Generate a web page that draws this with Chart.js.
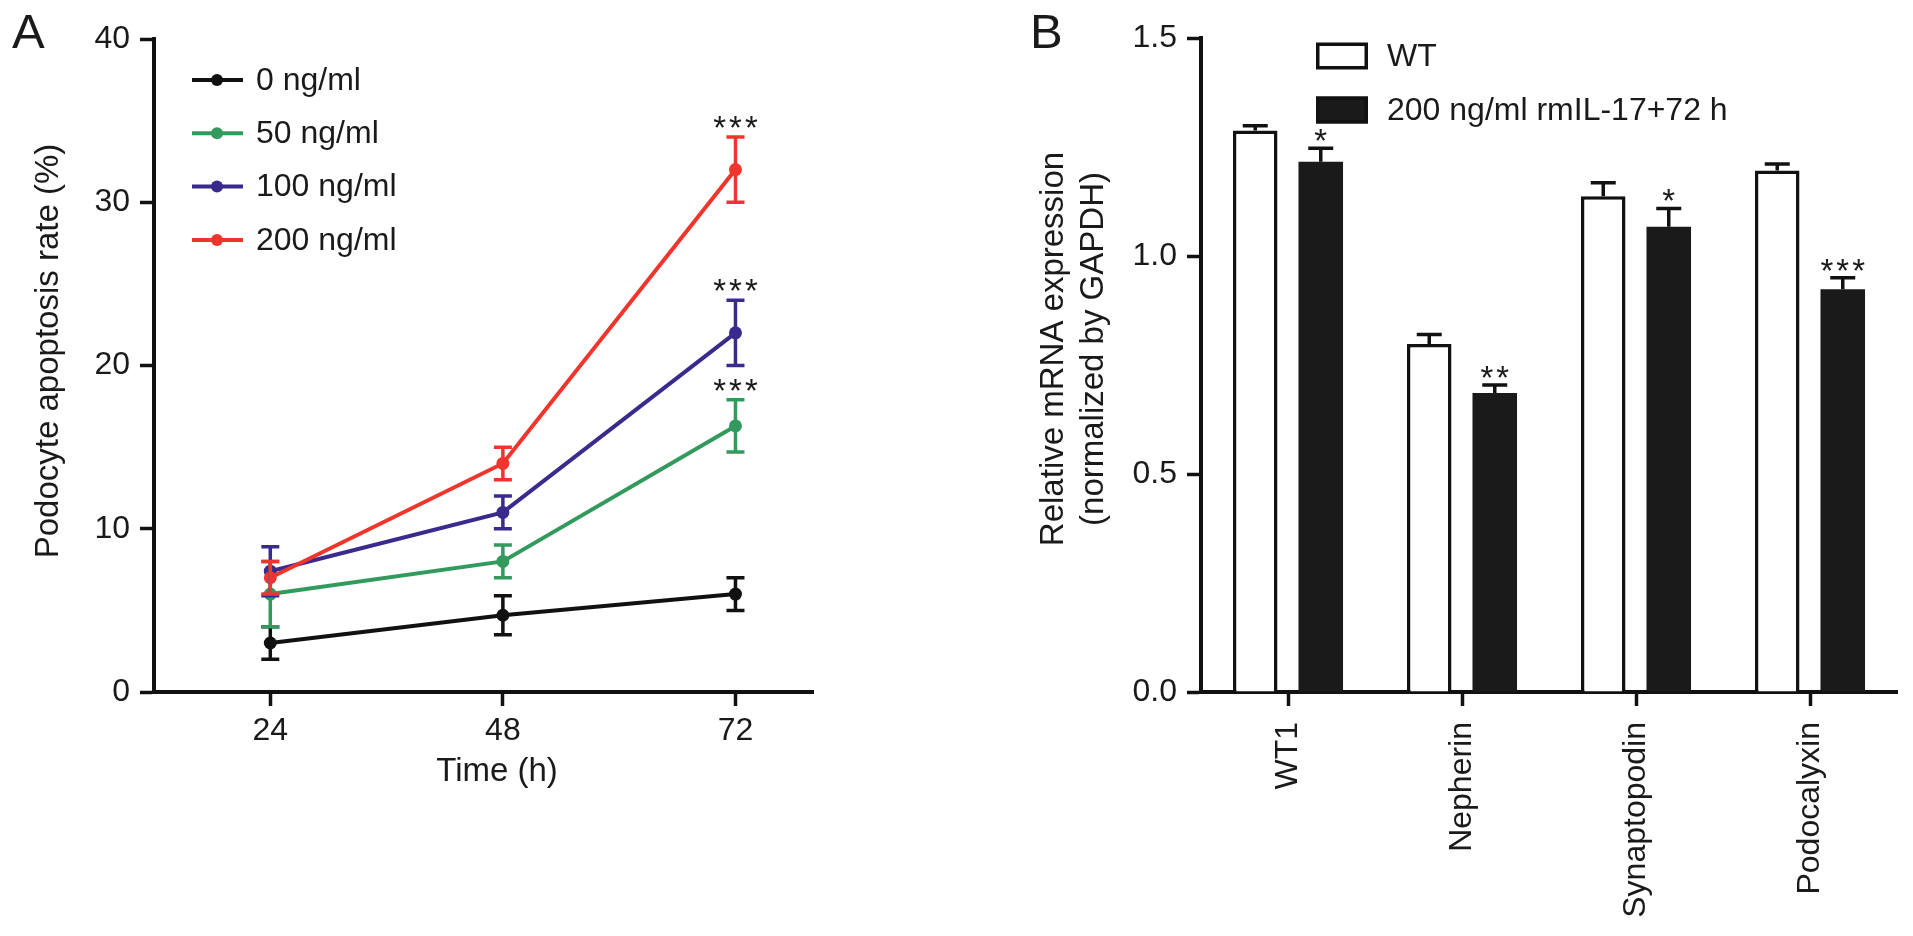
<!DOCTYPE html>
<html>
<head>
<meta charset="utf-8">
<script src="https://cdn.jsdelivr.net/npm/chart.js@4.4.1/dist/chart.umd.min.js"></script>
<style>
html, body { margin: 0; padding: 0; background: #fff; }
#wrap { position: relative; width: 1913px; height: 936px; overflow: hidden; }
#boxA { position: absolute; left: 0; top: 0; }
#boxB { position: absolute; left: 960px; top: 0; }
</style>
</head>
<body>
<div id="wrap">
  <div id="boxA"><canvas id="chartA" width="960" height="936"></canvas></div>
  <div id="boxB"><canvas id="chartB" width="953" height="936"></canvas></div>
</div>
<script>
// A: apoptosis rate over time
const timePoints = [24, 48, 72];
const doseLabels = ['0 ng/ml', '50 ng/ml', '100 ng/ml', '200 ng/ml'];
const doseColors = ['#111111', '#339a5e', '#3b2a8e', '#f0362c'];
const dose0 = [3.0, 4.7, 6.0];
const dose50 = [6.0, 8.0, 16.3];
const dose100 = [7.4, 11.0, 22.0];
const dose200 = [7.0, 14.0, 32.0];
const err0 = [1.0, 1.2, 1.0];
const err50 = [2.0, 1.0, 1.6];
const err100 = [1.5, 1.0, 2.0];
const err200 = [1.0, 1.0, 2.0];
const sig0 = ['', '', ''];
const sig50 = ['', '', '***'];
const sig100 = ['', '', '***'];
const sig200 = ['', '', '***'];
const yTicksA = [0, 10, 20, 30, 40];

// B: mRNA expression
const genes = ['WT1', 'Nepherin', 'Synaptopodin', 'Podocalyxin'];
const groupLabels = ['WT', '200 ng/ml rmIL-17+72 h'];
const wtMean = [1.288, 0.798, 1.137, 1.196];
const wtErr = [0.011, 0.022, 0.031, 0.015];
const rmMean = [1.216, 0.686, 1.067, 0.924];
const rmErr = [0.031, 0.018, 0.042, 0.026];
const sigB = ['*', '**', '*', '***'];

const FONT = '"Liberation Sans", Arial, Helvetica, sans-serif';
Chart.defaults.font.family = FONT;
Chart.defaults.font.size = 32;
Chart.defaults.color = '#1a1a1a';

// asterisks centred at (x, cy)
function drawStars(ctx, text, x, cy) {
    ctx.save();
    ctx.font = '33px ' + FONT;
    ctx.letterSpacing = '3px';
    ctx.textAlign = 'center';
    ctx.textBaseline = 'alphabetic';
    ctx.fillStyle = '#1a1a1a';
    ctx.fillText(text, x + 1.5, cy + 19);
    ctx.restore();
}

// letters, axis titles
const panelText = {
    id: 'panelText',
    afterDraw(chart, args, o) {
        const ctx = chart.ctx;
        ctx.save();
        ctx.fillStyle = '#1a1a1a';
        ctx.font = '49px ' + FONT;
        ctx.textBaseline = 'alphabetic';
        ctx.fillText(o.letter, o.letterX, 48);

        ctx.font = '33px ' + FONT;
        ctx.textAlign = 'center';
        ctx.textBaseline = 'middle';
        ctx.save();
        ctx.translate(o.yTitleX, o.yTitleY);
        ctx.rotate(-Math.PI / 2);
        o.yTitle.forEach((line, i) => ctx.fillText(line, 0, i * 40));
        ctx.restore();
        if (o.xTitle) ctx.fillText(o.xTitle, o.xTitleX, o.xTitleY);
        ctx.restore();
    }
};

const lineExtras = {
    id: 'lineExtras',
    afterDatasetsDraw(chart) {
        const { ctx, scales: { x, y } } = chart;
        ctx.save();
        chart.data.datasets.forEach(ds => {
            ctx.strokeStyle = ds.borderColor;
            ctx.lineWidth = 3.5;
            ds.data.forEach((p, j) => {
                const e = ds.errors[j];
                const px = x.getPixelForValue(p.x);
                const top = y.getPixelForValue(p.y + e);
                const bot = y.getPixelForValue(p.y - e);
                ctx.beginPath();
                ctx.moveTo(px, top); ctx.lineTo(px, bot);
                ctx.moveTo(px - 9, top); ctx.lineTo(px + 9, top);
                ctx.moveTo(px - 9, bot); ctx.lineTo(px + 9, bot);
                ctx.stroke();
                if (ds.sig[j]) drawStars(ctx, ds.sig[j], px, top - 17);
            });
        });
        // legend
        ctx.textAlign = 'left';
        ctx.textBaseline = 'middle';
        ctx.font = '32px ' + FONT;
        chart.data.datasets.forEach((ds, i) => {
            const ly = 80 + i * 53.3;
            ctx.strokeStyle = ds.borderColor;
            ctx.lineWidth = 4;
            ctx.beginPath();
            ctx.moveTo(192, ly); ctx.lineTo(243, ly);
            ctx.stroke();
            ctx.fillStyle = ds.borderColor;
            ctx.beginPath();
            ctx.arc(217, ly, 6, 0, Math.PI * 2);
            ctx.fill();
            ctx.fillStyle = '#1a1a1a';
            ctx.fillText(ds.label, 256, ly + 1);
        });
        ctx.restore();
    }
};

const barExtras = {
    id: 'barExtras',
    afterDatasetsDraw(chart) {
        const { ctx, scales: { y } } = chart;
        ctx.save();
        ctx.strokeStyle = '#111';
        ctx.lineWidth = 3.5;
        chart.data.datasets.forEach((ds, i) => {
            chart.getDatasetMeta(i).data.forEach((bar, j) => {
                const top = y.getPixelForValue(ds.data[j] + ds.errors[j]);
                ctx.beginPath();
                ctx.moveTo(bar.x, bar.y); ctx.lineTo(bar.x, top);
                ctx.moveTo(bar.x - 12.5, top); ctx.lineTo(bar.x + 12.5, top);
                ctx.stroke();
                if (ds.sig && ds.sig[j]) drawStars(ctx, ds.sig[j], bar.x, top - 15);
            });
        });
        // legend boxes
        ctx.font = '32px ' + FONT;
        ctx.textAlign = 'left';
        ctx.textBaseline = 'middle';
        chart.data.datasets.forEach((ds, i) => {
            const cy = 56 + i * 54;
            ctx.fillStyle = ds.backgroundColor;
            ctx.fillRect(356, cy - 13.5, 52, 27);
            ctx.lineWidth = 3.5;
            ctx.strokeStyle = '#111';
            ctx.strokeRect(357.75, cy - 11.75, 48.5, 23.5);
            ctx.fillStyle = '#1a1a1a';
            ctx.fillText(ds.label, 427, cy + 1);
        });
        ctx.restore();
    }
};

const axisGrid = { drawOnChartArea: false, drawTicks: true, tickLength: 14, tickWidth: 3.5, color: '#111' };
const axisBorder = { display: true, color: '#111', width: 4 };

const seriesA = [dose0, dose50, dose100, dose200];
const errorsA = [err0, err50, err100, err200];
const sigsA = [sig0, sig50, sig100, sig200];

new Chart(document.getElementById('chartA'), {
    type: 'line',
    data: {
        datasets: seriesA.map((vals, i) => ({
            label: doseLabels[i],
            data: vals.map((v, j) => ({ x: timePoints[j], y: v })),
            errors: errorsA[i],
            sig: sigsA[i],
            borderColor: doseColors[i],
            backgroundColor: doseColors[i],
            pointBackgroundColor: doseColors[i],
            borderWidth: 4,
            pointRadius: 6.5,
            pointBorderWidth: 0,
            tension: 0,
            order: 3 - i
        }))
    },
    options: {
        responsive: false,
        animation: false,
        layout: { padding: { left: 0, top: 39, right: 147, bottom: 0 } },
        plugins: {
            legend: { display: false },
            tooltip: { enabled: false },
            panelText: {
                letter: 'A', letterX: 12,
                yTitle: ['Podocyte apoptosis rate (%)'], yTitleX: 49, yTitleY: 351,
                xTitle: 'Time (h)', xTitleX: 497, xTitleY: 772
            }
        },
        scales: {
            x: {
                type: 'linear', min: 12, max: 80,
                afterBuildTicks: s => { s.ticks = timePoints.map(v => ({ value: v })); },
                afterFit: s => { s.height = 244; },
                grid: axisGrid,
                border: axisBorder,
                ticks: { padding: 6, color: '#1a1a1a' }
            },
            y: {
                min: 0, max: 40,
                afterBuildTicks: s => { s.ticks = yTicksA.map(v => ({ value: v })); },
                afterFit: s => { s.width = 154; },
                grid: axisGrid,
                border: axisBorder,
                ticks: { padding: 10, color: '#1a1a1a' }
            }
        }
    },
    plugins: [lineExtras, panelText]
});

new Chart(document.getElementById('chartB'), {
    type: 'bar',
    data: {
        labels: genes,
        datasets: [
            { label: groupLabels[0], data: wtMean, errors: wtErr, backgroundColor: '#ffffff', borderColor: '#111', borderWidth: 3.5 },
            { label: groupLabels[1], data: rmMean, errors: rmErr, sig: sigB, backgroundColor: '#1a1a1a', borderColor: '#1a1a1a', borderWidth: 0 }
        ]
    },
    options: {
        responsive: false,
        animation: false,
        layout: { padding: { left: 0, top: 38, right: 16, bottom: 0 } },
        datasets: { bar: { categoryPercentage: 0.753, barPercentage: 0.68 } },
        plugins: {
            legend: { display: false },
            tooltip: { enabled: false },
            panelText: {
                letter: 'B', letterX: 70,
                yTitle: ['Relative mRNA expression', '(normalized by GAPDH)'], yTitleX: 94, yTitleY: 349
            }
        },
        scales: {
            x: {
                offset: true,
                afterFit: s => { s.height = 244; },
                grid: { ...axisGrid, offset: false },
                border: axisBorder,
                ticks: { minRotation: 90, maxRotation: 90, padding: 16, color: '#1a1a1a' }
            },
            y: {
                min: 0, max: 1.5,
                ticks: { stepSize: 0.5, padding: 10, color: '#1a1a1a', callback: v => v.toFixed(1) },
                afterFit: s => { s.width = 241; },
                grid: axisGrid,
                border: axisBorder
            }
        }
    },
    plugins: [barExtras, panelText]
});
</script>
</body>
</html>
